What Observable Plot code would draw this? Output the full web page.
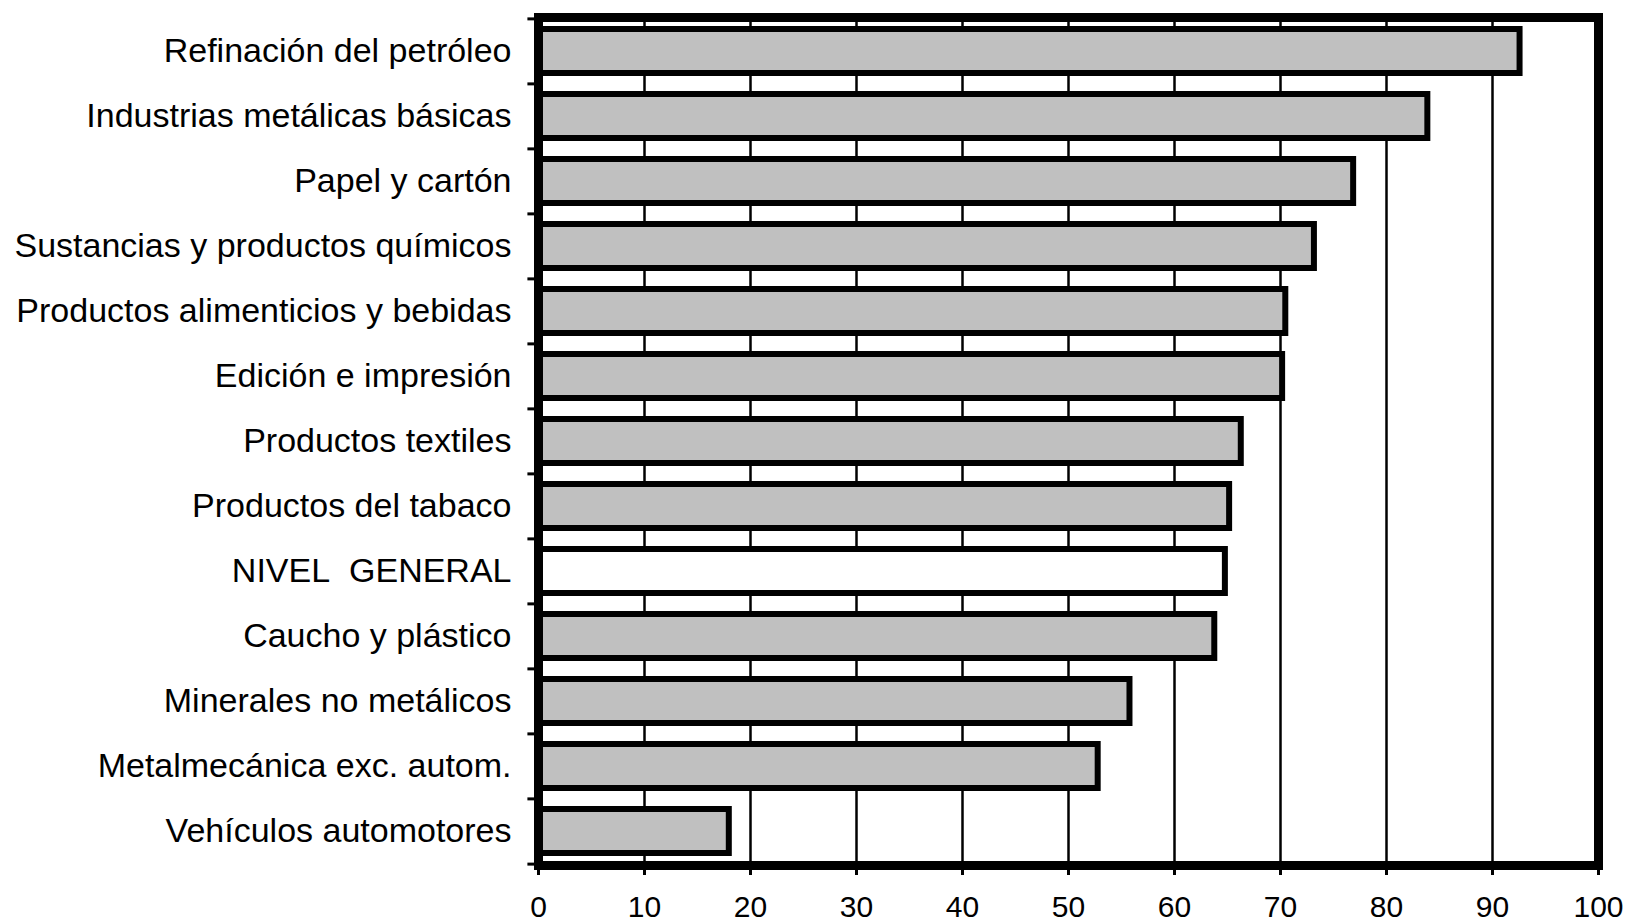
<!DOCTYPE html>
<html>
<head>
<meta charset="utf-8">
<script src="https://cdn.jsdelivr.net/npm/d3@7"></script>
<script src="https://cdn.jsdelivr.net/npm/@observablehq/plot@0.6"></script>
<style>
  body { margin: 0; background: #fff; }
  #chart svg { display: block; }
</style>
</head>
<body>
<div id="chart"></div>
<script>
const categories = [
  "Refinación del petróleo",
  "Industrias metálicas básicas",
  "Papel y cartón",
  "Sustancias y productos químicos",
  "Productos alimenticios y bebidas",
  "Edición e impresión",
  "Productos textiles",
  "Productos del tabaco",
  "NIVEL\u00a0\u00a0GENERAL",
  "Caucho y plástico",
  "Minerales no metálicos",
  "Metalmecánica exc. autom.",
  "Vehículos automotores"
];
const values = [92.6, 83.9, 76.9, 73.2, 70.5, 70.2, 66.3, 65.2, 64.8, 63.8, 55.8, 52.8, 18.0];
const highlighted = "NIVEL\u00a0\u00a0GENERAL";
const xTicks = [0, 10, 20, 30, 40, 50, 60, 70, 80, 90, 100];
const gridValues = [10, 20, 30, 40, 50, 60, 70, 80, 90];

const data = categories.map((c, i) => ({category: c, value: values[i]}));

const W = 1630, H = 924;
const mL = 538, mR = 32, mT = 17, mB = 59;
const step = (H - mT - mB) / categories.length;

const chart = Plot.plot({
  width: W,
  height: H,
  marginLeft: mL,
  marginRight: mR,
  marginTop: mT,
  marginBottom: mB,
  style: {background: "#fff", color: "black", fontFamily: "'Liberation Sans', Arial, sans-serif", overflow: "visible"},
  x: {domain: [0, 100]},
  y: {domain: categories, paddingInner: 0.325, paddingOuter: 0.1625, align: 0.5},
  marks: [
    Plot.ruleX(gridValues, {x: d => d, stroke: "black", strokeWidth: 2.5}),
    Plot.barX(data, {
      x: "value",
      y: "category",
      fill: d => d.category === highlighted ? "#ffffff" : "#c0c0c0",
      stroke: "black",
      strokeWidth: 6
    }),
    Plot.ruleY(categories, {y: d => d, x1: -1, x2: 0, dy: -step / 2, stroke: "black", strokeWidth: 3}),
    Plot.ruleY(categories.slice(-1), {y: d => d, x1: -1, x2: 0, dy: step / 2, stroke: "black", strokeWidth: 3}),
    Plot.axisY({tickSize: 0, tickPadding: 27, fontSize: 34, label: null, fill: "black"}),
    Plot.axisX({ticks: xTicks, tickSize: 10, tickPadding: 20, fontSize: 30, strokeWidth: 3, label: null, fill: "black", tickFormat: d => String(d)}),
    Plot.frame({stroke: "black", strokeWidth: 9})
  ]
});

document.getElementById("chart").appendChild(chart);
</script>
</body>
</html>
